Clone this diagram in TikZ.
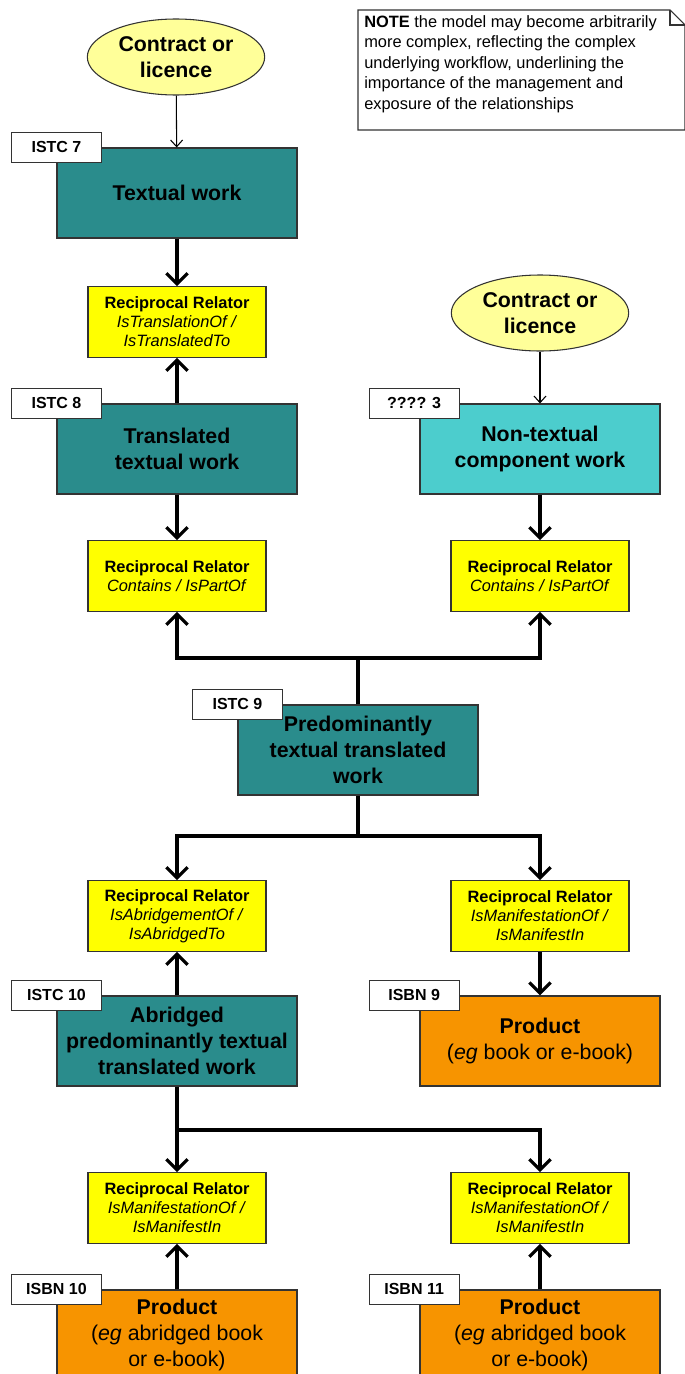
\documentclass[tikz,border=0pt]{standalone}
\usepackage{fontspec}
\setmainfont{Liberation Sans}
\usepackage{tikz}
\usetikzlibrary{arrows.meta}
\usetikzlibrary{shapes}
\usetikzlibrary{positioning}
\usetikzlibrary{calc}
\definecolor{tealdk}{HTML}{2A8C8C}
\definecolor{teallt}{HTML}{4CCDCD}
\definecolor{prodor}{HTML}{F79400}
\definecolor{relyel}{HTML}{FFFF00}
\definecolor{ctryel}{HTML}{FFFF99}
\tikzset{
  box/.style = {align=center, inner sep=2pt, draw=black!80, line width=0.8pt},
  wrk_d/.style = {box, fill=tealdk, minimum width=180pt, minimum height=67.5pt,
    font=\fontsize{16}{19.5}\selectfont\bfseries},% work, dark teal
  wrk_l/.style = {wrk_d, fill=teallt},% work, light teal
  prd_o/.style = {wrk_d, fill=prodor, font=\fontsize{16}{19.5}\selectfont},% product
  rel_y/.style = {box, fill=relyel, minimum width=133.5pt, minimum height=53pt,
    font=\fontsize{12.3}{14.3}\selectfont},% reciprocal relator
  ctr_e/.style = {box, ellipse, fill=ctryel, minimum width=133pt, minimum height=57pt,
    font=\fontsize{16}{19.5}\selectfont\bfseries},% contract
  id_lab/.style = {box, fill=white, minimum width=67.5pt, minimum height=22.5pt,
    font=\fontsize{12}{14}\selectfont\bfseries},% identifier
  fat/.style = {line width=2.4pt, -{Straight Barb[length=8pt,width=16pt]}},
  fat_l/.style = {line width=2.4pt},
  thn/.style = {line width=0.8pt, -{Straight Barb[length=5pt,width=9pt]}}
}

\begin{document}
\begin{tikzpicture}[x=0.75pt,y=-0.75pt]
\useasboundingbox (0,0) rectangle (685,1374);
\clip (0,0) rectangle (685,1374);

% note
\draw[line width=0.8pt, draw=black!80, fill=white] (358,10) -- (670,10) -- (685,25) -- (685,130) -- (358,130) -- cycle;
\draw[line width=0.8pt, draw=black!80] (670,10) |- (685,25);
\node [anchor=north west, align=left, inner sep=0pt,
  font=\fontsize{12.3}{15.4}\selectfont] (note) at (364,15)
  {\textbf{NOTE} the model may become arbitrarily\\more complex, reflecting the complex\\underlying workflow, underlining the\\importance of the management and\\exposure of the relationships};

% contracts
\node [ctr_e] (c1) at (176,57) {Contract or\\licence};
\node [ctr_e] (c2) at (540,313) {Contract or\\licence};

% works and products
\node [wrk_d] (w7) at (177,193) {Textual work};
\node [wrk_d] (w8) at (177,449) {Translated\\textual work};
\node [wrk_l] (c3) at (540,449) {Non-textual\\component work};
\node [wrk_d] (w9) at (358,750) {Predominantly\\textual translated\\work};
\node [wrk_d] (w10) at (177,1041) {Abridged\\predominantly textual\\translated work};
\node [prd_o] (p9) at (540,1041) {\textbf{Product}\\(\textit{eg} book or e-book)};
\node [prd_o] (p10) at (177,1335) {\textbf{Product}\\(\textit{eg} abridged book\\or e-book)};
\node [prd_o] (p11) at (540,1335) {\textbf{Product}\\(\textit{eg} abridged book\\or e-book)};

% relators
\node [rel_y] (r1) at (177,322) {\textbf{Reciprocal Relator}\\\textit{IsTranslationOf /}\\\textit{IsTranslatedTo}};
\node [rel_y] (r2) at (177,576) {\textbf{Reciprocal Relator}\\\textit{Contains / IsPartOf}};
\node [rel_y] (r3) at (540,576) {\textbf{Reciprocal Relator}\\\textit{Contains / IsPartOf}};
\node [rel_y] (r4) at (177,916) {\textbf{Reciprocal Relator}\\\textit{IsAbridgementOf /}\\\textit{IsAbridgedTo}};
\node [rel_y] (r5) at (540,916) {\textbf{Reciprocal Relator}\\\textit{IsManifestationOf /}\\\textit{IsManifestIn}};
\node [rel_y] (r6) at (177,1208) {\textbf{Reciprocal Relator}\\\textit{IsManifestationOf /}\\\textit{IsManifestIn}};
\node [rel_y] (r7) at (540,1208) {\textbf{Reciprocal Relator}\\\textit{IsManifestationOf /}\\\textit{IsManifestIn}};

% identifiers
\node [id_lab] (l7) at (w7.north west) {ISTC 7};
\node [id_lab] (l8) at (w8.north west) {ISTC 8};
\node [id_lab] (l3) at ([xshift=-4pt]c3.north west) {???? 3};
\node [id_lab] (l9) at (w9.north west) {ISTC 9};
\node [id_lab] (l10) at (w10.north west) {ISTC 10};
\node [id_lab] (lb9) at ([xshift=-4pt]p9.north west) {ISBN 9};
\node [id_lab] (lb10) at (p10.north west) {ISBN 10};
\node [id_lab] (lb11) at ([xshift=-4pt]p11.north west) {ISBN 11};

% connectors
\coordinate (j1) at (358,658);
\coordinate (j2) at (358,836);
\coordinate (j3) at (177,1130);
\draw [thn] (c1) -- (w7);
\draw [thn] (c2) -- (c3);
\draw [fat] (w7) -- (r1);
\draw [fat] (w8) -- (r1);
\draw [fat] (w8) -- (r2);
\draw [fat] (c3) -- (r3);
\draw [fat_l] (w9) -- (j1);
\draw [fat] (j1) -| (r2.south);
\draw [fat] (j1) -| (r3.south);
\draw [fat_l] (w9) -- (j2);
\draw [fat] (j2) -| (r4.north);
\draw [fat] (j2) -| (r5.north);
\draw [fat] (w10) -- (r4);
\draw [fat] (r5) -- (p9);
\draw [fat] (w10) -- (r6);
\draw [fat] (j3) -| (r7.north);
\draw [fat] (p10) -- (r6);
\draw [fat] (p11) -- (r7);
\end{tikzpicture}
\end{document}
